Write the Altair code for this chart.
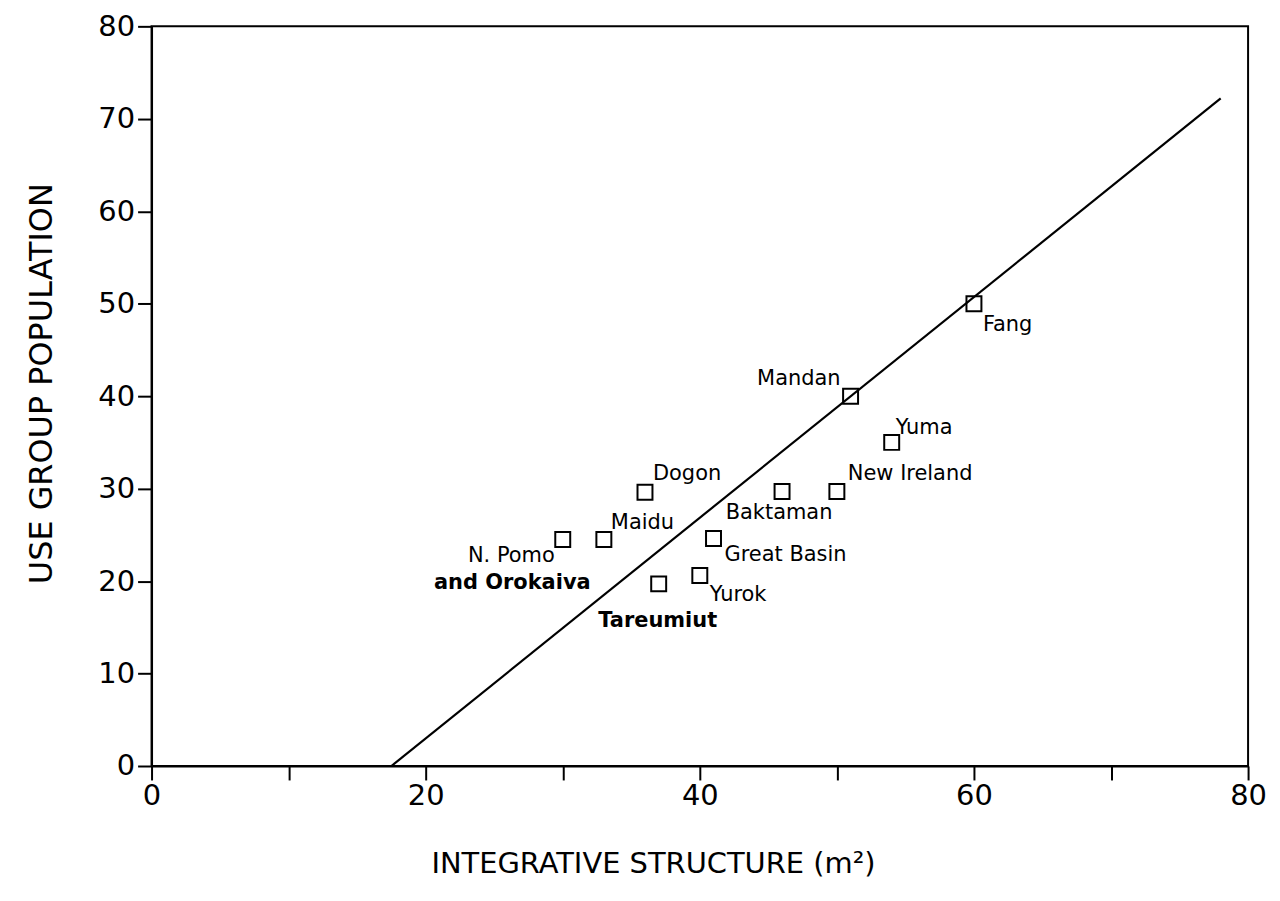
import altair as alt
import pandas as pd

# Data
names = ["Fang", "Mandan", "Yuma", "New Ireland", "Baktaman", "Dogon",
         "Maidu", "N. Pomo", "Great Basin", "Tareumiut", "Yurok"]
structure_m2 = [60, 51, 54, 50, 46, 36, 33, 30, 41, 37, 40]
population = [50, 40, 35, 29.7, 29.7, 29.6, 24.5, 24.5, 24.6, 19.7, 20.6]

line_x = [17.5, 78]
line_y = [0, 72.2]

x_ticks = [0, 10, 20, 30, 40, 50, 60, 70, 80]
y_ticks = [0, 10, 20, 30, 40, 50, 60, 70, 80]

# label texts attached to points
label_text = ["Fang", "Mandan", "Yuma", "New Ireland", "Baktaman", "Dogon",
              "Maidu", "N. Pomo", "and Orokaiva", "Great Basin", "Tareumiut", "Yurok"]
label_anchor = ["Fang", "Mandan", "Yuma", "New Ireland", "Baktaman", "Dogon",
                "Maidu", "N. Pomo", "N. Pomo", "Great Basin", "Tareumiut", "Yurok"]

# styling for each label: (align, dx, dy, weight)
label_style = [
    ("left", 9, 21, "normal"),
    ("right", -10, -17, "normal"),
    ("left", 4, -14, "normal"),
    ("left", 11, -17, "normal"),
    ("center", -3, 22, "normal"),
    ("left", 8, -18, "normal"),
    ("left", 7, -17, "normal"),
    ("right", -8, 17, "normal"),
    ("right", 28, 44, "bold"),
    ("left", 11, 17, "normal"),
    ("center", -1, 37, "bold"),
    ("left", 10, 20, "normal"),
]

pts = pd.DataFrame({"name": names, "x": structure_m2, "y": population})
line_df = pd.DataFrame({"x": line_x, "y": line_y})
lookup = dict(zip(names, zip(structure_m2, population)))
lab_df = pd.DataFrame({
    "text": label_text,
    "x": [lookup[a][0] for a in label_anchor],
    "y": [lookup[a][1] for a in label_anchor],
})

FONT = "DejaVu Sans"

xscale = alt.Scale(domain=[0, 80], nice=False, zero=False)
yscale = alt.Scale(domain=[0, 80], nice=False, zero=False)

xaxis = alt.Axis(
    values=x_ticks,
    labelExpr="datum.value % 20 == 0 ? datum.label : ''",
    title="INTEGRATIVE STRUCTURE (m²)",
    grid=False, tickSize=14, tickWidth=2, tickColor="black",
    domainColor="black", domainWidth=2,
    labelFont=FONT, labelFontSize=29, labelColor="black", labelPadding=2,
    titleFont=FONT, titleFontSize=29, titleFontWeight="normal", titleColor="black",
    titleX=503, titleY=98, titleAnchor="start", titleAlign="center", titleBaseline="middle",
    labelFlush=False,
)
yaxis = alt.Axis(
    values=y_ticks,
    title="USE GROUP POPULATION",
    grid=False, tickSize=14, tickWidth=2, tickColor="black",
    domainColor="black", domainWidth=2,
    labelFont=FONT, labelFontSize=29, labelColor="black", labelPadding=3,
    titleFont=FONT, titleFontSize=32, titleFontWeight="normal", titleColor="black",
    titleX=-110, titleY=358, titleAngle=270, titleAlign="center", titleBaseline="middle",
    labelFlush=False,
)

base_x = alt.X("x:Q", scale=xscale, axis=xaxis)
base_y = alt.Y("y:Q", scale=yscale, axis=yaxis)

line = alt.Chart(line_df).mark_line(color="black", strokeWidth=2.2, clip=True).encode(
    x=base_x, y=base_y
)

points = alt.Chart(pts).mark_point(
    shape="square", size=225, filled=False, color="black", strokeWidth=2, opacity=1
).encode(
    x=alt.X("x:Q", scale=xscale),
    y=alt.Y("y:Q", scale=yscale),
)

layers = [line, points]
for i, (align, dx, dy, weight) in enumerate(label_style):
    sub = lab_df.iloc[[i]]
    layers.append(
        alt.Chart(sub).mark_text(
            align=align, dx=dx, dy=dy, baseline="middle",
            font=FONT, fontSize=21, fontWeight=weight, color="black"
        ).encode(
            x=alt.X("x:Q", scale=xscale),
            y=alt.Y("y:Q", scale=yscale),
            text="text:N",
        )
    )

chart = alt.layer(*layers).properties(
    width=1100, height=742,
    autosize=alt.AutoSizeParams(type="none"),
    padding={"left": 144, "top": 17, "right": 24, "bottom": 126},
    background="white",
).configure_view(stroke="black", strokeWidth=2)

chart.save("out.html", embed_options={"renderer": "svg", "actions": False})
